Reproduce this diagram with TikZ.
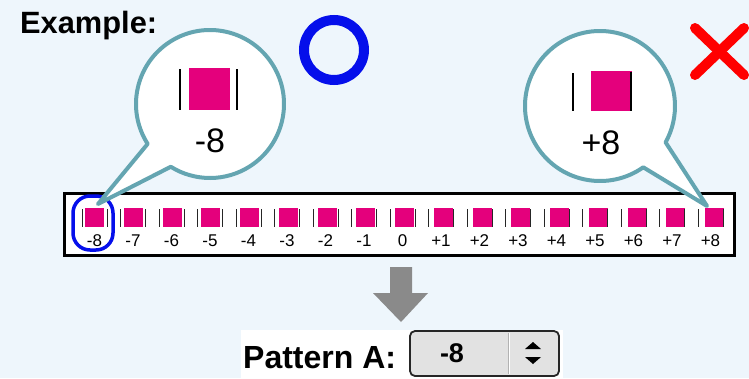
\documentclass[tikz,border=0pt]{standalone}
\usepackage{fontspec}
\setmainfont{Liberation Sans}
\definecolor{bgblue}{RGB}{238,246,252}
\definecolor{mag}{RGB}{228,0,124}
\definecolor{bubteal}{RGB}{100,165,177}
\definecolor{arrgray}{RGB}{138,138,138}
\definecolor{selblue}{RGB}{5,15,235}
\definecolor{widgetgray}{RGB}{226,226,226}
\begin{document}
\begin{tikzpicture}[x=1pt,y=-1pt,
  cellsq/.style={fill=mag, minimum width=19pt, minimum height=19pt, inner sep=0pt, anchor=north west},
  bigsq/.style={fill=mag, inner sep=0pt, anchor=north west},
  cellbar/.style={line width=0.9pt, black!85},
  bigbar/.style={line width=2.6pt, black},
  lbl/.style={font=\fontsize{17}{20}\selectfont, inner sep=0pt},
  bubble/.style={draw=bubteal, line width=4pt, fill=white, line join=round},
  bubtext/.style={font=\fontsize{34}{40}\selectfont, inner sep=0pt}]
\useasboundingbox (0,0) rectangle (749,378);
\fill[bgblue] (0,0) rectangle (749,378);

% title
\node[anchor=base west, inner sep=0pt, font=\fontsize{30.8}{36}\bfseries] (title) at (20,33) {Example:};

% O and X marks
\draw[selblue, line width=10pt] (334,50) circle[radius=30];
\coordinate (ok) at (334,50);
\draw[red, line width=10pt, line cap=round] (695,28) -- (744,75);
\draw[red, line width=10pt, line cap=round] (744,28) -- (695,75);

% strip
\draw[line width=3pt, fill=white] (64,193) rectangle (734,255);
\foreach \k in {0,...,16} {
  \pgfmathsetmacro\bx{82+38.5*\k}
  \pgfmathsetmacro\sx{\bx+3+0.25*\k}
  \pgfmathtruncatemacro\v{\k-8}
  \node[cellsq] (sq\k) at (\sx,208) {};
  \draw[cellbar] (\bx,209) -- (\bx,227);
  \draw[cellbar] (\bx+25,209) -- (\bx+25,227);
  \node[lbl] (lb\k) at (\bx+12.5,240.5) {\ifnum\v>0 +\v\else\v\fi};
}

% selection around -8
\node[draw=selblue, line width=3.5pt, rounded corners=17pt, minimum width=40pt, minimum height=54pt, inner sep=0pt] (sel) at (93,223) {};

% left bubble
\coordinate (cL) at (210,104);
\coordinate (tipL) at (98,204);
\draw[bubble] ([shift={(122:74)}]cL) -- (tipL) -- ([shift={(147.4:74)}]cL)
  arc[start angle=147.4, end angle=482, radius=74] -- cycle;
\draw[bigbar] (180,69) -- (180,110);
\node[bigsq, minimum width=41pt, minimum height=42pt] (bsqL) at (189,68) {};
\draw[bigbar] (237,69) -- (237,110);
\node[bubtext] (bvL) at (210,141) {-8};

% right bubble
\coordinate (cR) at (600,106);
\coordinate (tipR) at (707,206);
\draw[bubble] ([shift={(29:75)}]cR) -- (tipR) -- ([shift={(54.8:75)}]cR)
  arc[start angle=54.8, end angle=389, radius=75] -- cycle;
\draw[bigbar] (573,73) -- (573,111);
\node[bigsq, minimum width=41pt, minimum height=40pt] (bsqR) at (591,71) {};
\draw[bigbar] (631,72) -- (631,111);
\node[bubtext] (bvR) at (601,143) {+8};

% down arrow
\fill[arrgray] (390,267) -- (412,267) -- (412,293) -- (428,293) -- (401,322) -- (373,293) -- (390,293) -- cycle;

% pattern widget
\fill[white] (241,330) rectangle (563,378);
\node[anchor=base west, inner sep=0pt, font=\fontsize{32}{38}\bfseries] (pat) at (243,368) {Pattern A:};
\draw[rounded corners=5pt, line width=1.8pt, draw=black!85, fill=widgetgray] (410,331) rectangle (559,376);
\draw[black!30, line width=1pt] (508,333) -- (508,374);
\draw[white, line width=1pt] (509.5,333) -- (509.5,374);
\node[inner sep=0pt, font=\fontsize{27}{32}\bfseries] (val) at (452,353) {-8};
\fill[black] (525,349) -- (541,349) -- (533,342) -- cycle;
\fill[black] (525,357) -- (541,357) -- (533,364) -- cycle;
\end{tikzpicture}
\end{document}
